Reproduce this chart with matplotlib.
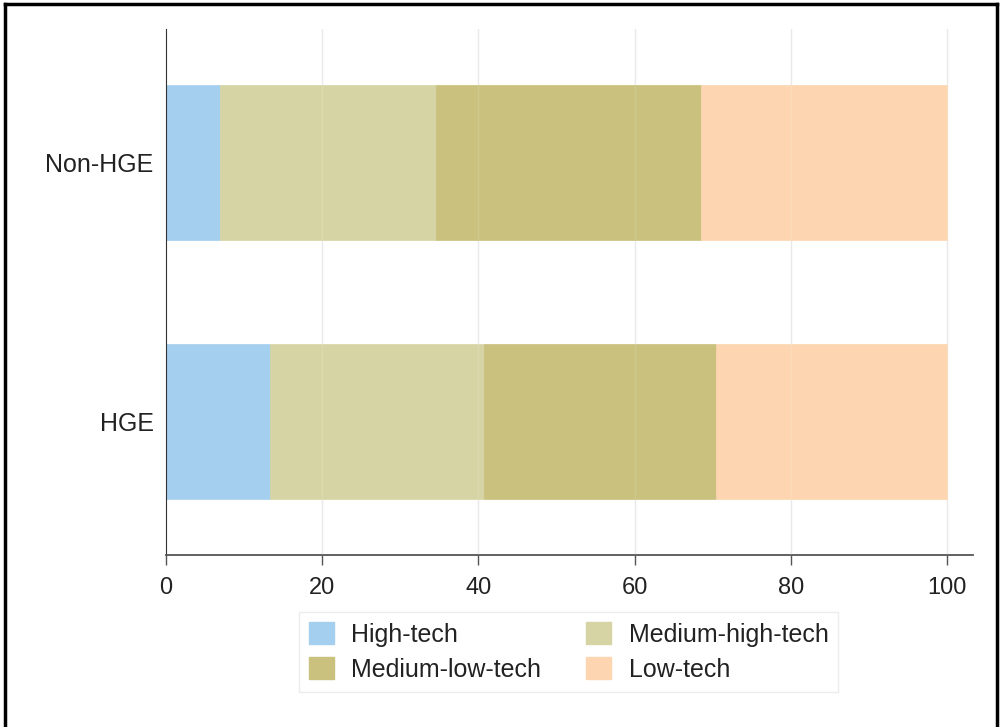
import numpy as np
import matplotlib
matplotlib.use('Agg')
import matplotlib.pyplot as plt
from matplotlib.patches import Patch
from matplotlib.lines import Line2D

plt.rcParams['font.family'] = ['Liberation Sans', 'DejaVu Sans']

# data (shares in %)
groups = ['HGE', 'Non-HGE']
categories = ['High-tech', 'Medium-high-tech', 'Medium-low-tech', 'Low-tech']
high_tech = [13.3, 6.9]
medium_high_tech = [27.4, 27.7]
medium_low_tech = [29.7, 33.9]
low_tech = [29.6, 31.5]
xticks = [0, 20, 40, 60, 80, 100]

colors = ['#a5cfee', '#d6d4a4', '#c9c17d', '#fdd6b1']
series = [high_tech, medium_high_tech, medium_low_tech, low_tech]

fig = plt.figure(figsize=(10, 7.27), dpi=100)
ax = fig.add_axes([0.166, 1 - 555 / 727, 0.973 - 0.166, (555 - 29) / 727])

y = np.arange(len(groups))
left = np.zeros(len(groups))
for vals, col, name in zip(series, colors, categories):
    ax.barh(y, vals, left=left, height=0.6, color=col, edgecolor=col,
            linewidth=0.5, label=name, zorder=2)
    left += np.array(vals)

# faint vertical grid, slightly visible through bars
for t in xticks[1:]:
    ax.axvline(t, color='#e6e6e6', lw=1, zorder=1)
    ax.axvline(t, color='white', lw=1, alpha=0.12, zorder=3)

ax.set_xlim(0, 103.3)
ax.set_ylim(-0.517, 1.517)
ax.set_xticks(xticks)
ax.set_yticks(y)
ax.set_yticklabels(groups)

for side in ['top', 'right']:
    ax.spines[side].set_visible(False)
ax.spines['left'].set_color('#333333')
ax.spines['bottom'].set_color('#555555')
ax.spines['bottom'].set_linewidth(1.3)
ax.tick_params(axis='x', length=7, width=1, color='#555555', pad=9,
               labelsize=17, labelcolor='#222222')
ax.tick_params(axis='y', length=0, pad=9, labelsize=18, labelcolor='#222222')

# legend filled row-wise like the original: matplotlib fills by column
order = [0, 2, 1, 3]
handles = [Patch(facecolor=colors[i], edgecolor=colors[i], label=categories[i]) for i in order]
leg = fig.legend(handles=handles, loc='center', ncol=2,
                 bbox_to_anchor=(568.5 / 1000, 1 - 652 / 727),
                 fontsize=18, frameon=True, fancybox=False,
                 handlelength=1.0, handleheight=0.95, handletextpad=0.7,
                 columnspacing=1.8, labelspacing=0.42, borderpad=0.4)
leg.get_frame().set_edgecolor('#e8e8e8')
leg.get_frame().set_linewidth(1)
for txt in leg.get_texts():
    txt.set_color('#222222')

# outer black frame (bottom edge is cut off in the original)
frame_kw = dict(color='black', lw=2.5, transform=fig.transFigure)
x0, x1 = 5 / 1000, 997 / 1000
y_top = 1 - 4 / 727
fig.add_artist(Line2D([x0, x1], [y_top, y_top], **frame_kw))
fig.add_artist(Line2D([x0, x0], [0, y_top], **frame_kw))
fig.add_artist(Line2D([x1, x1], [0, y_top], **frame_kw))

fig.savefig('out.png', dpi=100, facecolor='white')
